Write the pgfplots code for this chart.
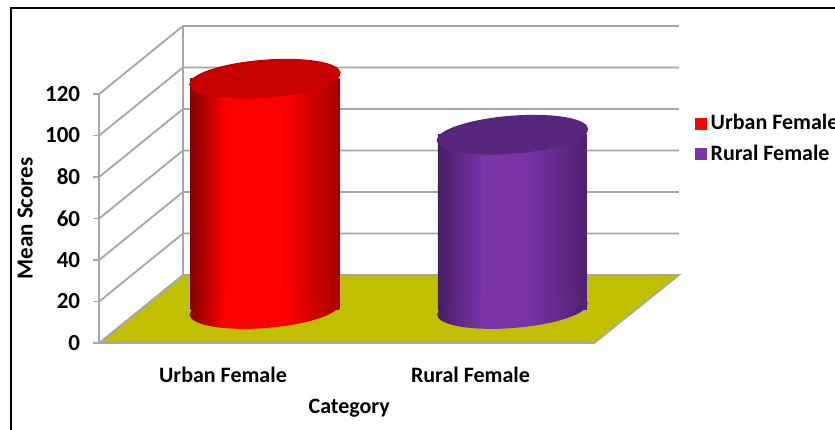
\documentclass[border=0pt]{standalone}
\usepackage{fontspec}
\setmainfont{Carlito}
\usepackage{pgfplots}
\pgfplotsset{compat=1.18}
\usetikzlibrary{shapes.geometric}
\definecolor{gridgray}{RGB}{166,166,166}
\definecolor{floorcol}{RGB}{192,192,0}
\definecolor{redL}{RGB}{135,0,0}
\definecolor{redR}{RGB}{165,0,0}
\definecolor{redMid}{RGB}{255,0,0}
\definecolor{redTop}{RGB}{200,0,0}
\definecolor{purL}{RGB}{70,28,100}
\definecolor{purR}{RGB}{78,32,110}
\definecolor{purMid}{RGB}{122,52,168}
\definecolor{purTop}{RGB}{86,37,124}

\pgfdeclarehorizontalshading{redcyl}{100bp}{color(0bp)=(redL); color(25bp)=(redL); color(37bp)=(redMid); color(56bp)=(redMid); color(75bp)=(redR); color(100bp)=(redR)}
\pgfdeclarehorizontalshading{purcyl}{100bp}{color(0bp)=(purL); color(25bp)=(purL); color(40bp)=(purMid); color(55bp)=(purMid); color(75bp)=(purR); color(100bp)=(purR)}

\tikzset{cylnode/.style={ellipse, anchor=center, minimum width=75.5pt, minimum height=19pt, inner sep=0pt, outer sep=0pt, rotate=4.5, draw=none},
 cyltop/.style={cylnode, minimum width=76pt}}

\begin{document}
\begin{tikzpicture}[font=\bfseries\fontsize{11}{13.2}\selectfont]
\useasboundingbox (0,0) rectangle (417.5pt,214.5pt);
\fill[white] (0,0) rectangle (417.5pt,214.5pt);
\draw[line width=1pt] (5.5pt,-1pt) -- (5.5pt,210.5pt) -- (420pt,210.5pt);

\begin{axis}[
 at={(49.6pt,43pt)}, anchor=south west,
 width=247.5pt, height=124.5pt, scale only axis,
 xmin=-0.5, xmax=1.5, ymin=0, ymax=120,
 clip=false,
 axis lines*=left,
 axis line style={gridgray, line width=0.9pt},
 xtick={0,1}, xticklabels={Urban Female, Rural Female},
 ytick={0,20,...,120},
 x tick style={draw=none},
 y tick style={gridgray, line width=0.9pt},
 tick align=outside, major tick length=3pt,
 xticklabel style={yshift=-5.5pt},
 yticklabel style={xshift=-3pt, font=\bfseries\fontsize{11.5}{13.8}\selectfont},
 /pgf/number format/assume math mode=true,
 xlabel={Category}, ylabel={Mean Scores},
 every axis x label/.style={at={(axis description cs:0.505,-0.261)}, anchor=center},
 every axis y label/.style={at={(axis description cs:-0.1495,0.5)}, anchor=center, rotate=90, font=\bfseries\fontsize{11.5}{13.8}\selectfont},
 legend style={at={(axis description cs:1.19,0.82)}, anchor=west, draw=none, fill=none, font=\bfseries\fontsize{11}{13}\selectfont, row sep=2pt},
 legend cell align=left,
]
% back wall and side wall grid lines
\draw[gridgray, line width=0.9pt] (axis cs:-0.5,20) -- (axis cs:-0.1616,52.77) -- (axis cs:1.8424,52.77);
\draw[gridgray, line width=0.9pt] (axis cs:-0.5,40) -- (axis cs:-0.1616,72.77) -- (axis cs:1.8424,72.77);
\draw[gridgray, line width=0.9pt] (axis cs:-0.5,60) -- (axis cs:-0.1616,92.77) -- (axis cs:1.8424,92.77);
\draw[gridgray, line width=0.9pt] (axis cs:-0.5,80) -- (axis cs:-0.1616,112.77) -- (axis cs:1.8424,112.77);
\draw[gridgray, line width=0.9pt] (axis cs:-0.5,100) -- (axis cs:-0.1616,132.77) -- (axis cs:1.8424,132.77);
\draw[gridgray, line width=0.9pt] (axis cs:-0.5,120) -- (axis cs:-0.1616,152.77) -- (axis cs:1.8424,152.77);
\draw[gridgray, line width=0.9pt] (axis cs:-0.1616,32.77) -- (axis cs:-0.1616,152.77);
% floor
\filldraw[fill=floorcol, draw=gridgray, line width=0.9pt] (axis cs:-0.5,0) -- (axis cs:-0.1616,32.77) -- (axis cs:1.8424,32.77) -- (axis cs:1.5,0) -- cycle;

\addlegendimage{legend image code/.code={\fill[redMid] (0pt,-2.8pt) rectangle (5.6pt,2.8pt);}}
\addlegendentry{Urban Female}
\addlegendimage{legend image code/.code={\fill[purMid] (0pt,-2.8pt) rectangle (5.6pt,2.8pt);}}
\addlegendentry{Rural Female}
\end{axis}

\begin{axis}[
 at={(70.6pt,60pt)}, anchor=south west,
 width=247.5pt, height=124.5pt, scale only axis,
 xmin=-0.5, xmax=1.5, ymin=0, ymax=120,
 hide axis, clip=false,
]
% Urban Female cylinder (value 111)
\addplot[draw=none, nodes near coords={}, every node near coord/.append style={cylnode, shade, shading=redcyl}] coordinates {(0,0)};
\addplot[ybar, bar width=0.602, bar shift=0pt, draw=none, shade, shading=redcyl] coordinates {(0,111)};
\addplot[draw=none, nodes near coords={}, every node near coord/.append style={cyltop, fill=redTop}] coordinates {(0,111)};
% Rural Female cylinder (value 84)
\addplot[draw=none, nodes near coords={}, every node near coord/.append style={cylnode, shade, shading=purcyl}] coordinates {(1,0)};
\addplot[ybar, bar width=0.602, bar shift=0pt, draw=none, shade, shading=purcyl] coordinates {(1,84)};
\addplot[draw=none, nodes near coords={}, every node near coord/.append style={cyltop, fill=purTop}] coordinates {(1,84)};
\end{axis}
\end{tikzpicture}
\end{document}
